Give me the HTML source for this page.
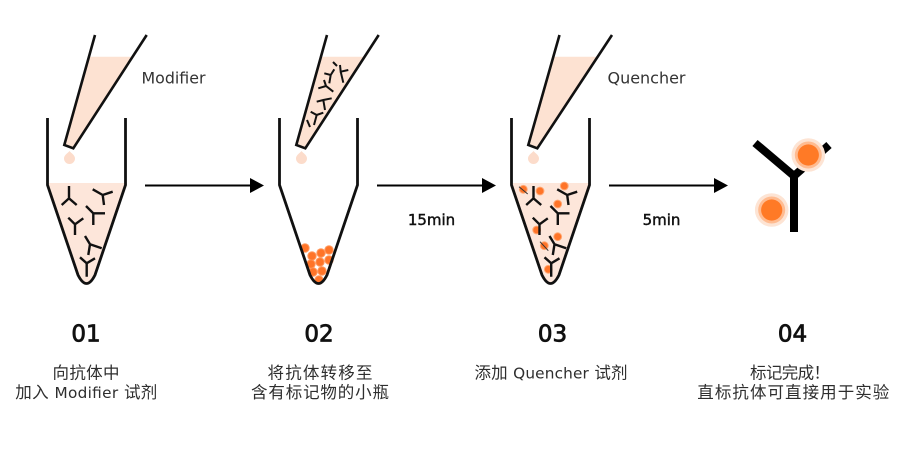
<!DOCTYPE html>
<html>
<head>
<meta charset="utf-8">
<style>
  html,body{margin:0;padding:0;background:#fff;}
  body{width:902px;height:454px;overflow:hidden;}
  svg{display:block;}
  .t{font-family:"DejaVu Sans","Noto Sans CJK SC",sans-serif;}
</style>
</head>
<body>
<svg width="902" height="454" viewBox="0 0 902 454" xmlns="http://www.w3.org/2000/svg">
  <rect x="0" y="0" width="902" height="454" fill="#fff"/>

  <!-- ========== STEP 1 ========== -->
  <g>
    <polygon points="88.9,56.7 132.6,56.7 73.3,148.3 64.3,145" fill="#fde2d2"/>
    <path d="M95,35 L64.3,145 L73.3,148.3 L146.7,35" fill="none" stroke="#111" stroke-width="2.6" stroke-linejoin="miter"/>
    <path d="M69.5,151 C71.5,153.5 75,155 75,158.5 A5.5,5.5 0 1 1 64,158.5 C64,155 67.5,153.5 69.5,151 Z" fill="#fcdccb"/>
    <path d="M47.5,183 H125.5 V185 L95,275 Q86.5,292 78,275 L47.5,185 Z" fill="#fde6da"/>
    <g fill="none" stroke="#111" stroke-width="2.4">
      <path d="M69,186 V198.3 M61.7,205 L69,198.3 L76.7,205"/>
      <path d="M92.7,189.3 L102.7,195 L112.7,191.7 M102.7,195 L104,205"/>
      <path d="M86,206 L93.3,213.3 L105,213.3 M93.3,213.3 V225"/>
      <path d="M68.3,217.7 L75,224.3 L83.3,218.3 M75,224.3 V235"/>
      <path d="M85,236 L90,244.3 L101.7,248.3 M90,244.3 L88.3,255"/>
      <path d="M80,257.3 L86.7,263.3 L95,258.3 M86.7,263.3 V276.7"/>
    </g>
    <path d="M47.5,118 V185 L78,275 Q86.5,292 95,275 L125.5,185 V118" fill="none" stroke="#111" stroke-width="2.8" stroke-linejoin="round"/>
  </g>

  <!-- ========== STEP 2 ========== -->
  <g transform="translate(232,0)">
    <polygon points="88.9,56.7 132.6,56.7 73.3,148.3 64.3,145" fill="#fde2d2"/>
    <path d="M69.5,151 C71.5,153.5 75,155 75,158.5 A5.5,5.5 0 1 1 64,158.5 C64,155 67.5,153.5 69.5,151 Z" fill="#fcdccb"/>
  </g>
  <g fill="none" stroke="#111" stroke-width="2">
    <path d="M324.3,73.3 L330.7,75 L334.3,69.3 M330.7,75 L329.3,83.3"/>
    <path d="M340,65 L340.7,71.7 L348.3,70 M340.7,71.7 L343.3,82.7"/>
    <path d="M318.3,88.3 L326,86 L333.3,91.7 M326,86 L324,80"/>
    <path d="M316.7,101.7 L323.3,100 L331.7,98.3 M323.3,100 L325,110"/>
    <path d="M310.7,111.7 L316.7,115 L323.3,112.7 M316.7,115 L314,125"/>
    <path d="M333,62 L337,66"/>
    <path d="M307,120 L310,127"/>
  </g>
  <g transform="translate(232,0)">
    <path d="M95,35 L64.3,145 L73.3,148.3 L146.7,35" fill="none" stroke="#111" stroke-width="2.6" stroke-linejoin="miter"/>
  </g>
  <g>
    <g fill="#ff9a60">
      <circle cx="305" cy="248" r="4.7"/>
      <circle cx="312" cy="256" r="4.7"/>
      <circle cx="321" cy="253" r="4.7"/>
      <circle cx="329" cy="250" r="4.7"/>
      <circle cx="311" cy="264" r="4.7"/>
      <circle cx="320" cy="262" r="4.7"/>
      <circle cx="329" cy="260" r="4.7"/>
      <circle cx="313" cy="272" r="4.7"/>
      <circle cx="322" cy="271" r="4.7"/>
      <circle cx="319" cy="280" r="4.7"/>
    </g>
    <g fill="#ff7428">
      <circle cx="305" cy="248" r="3.7"/>
      <circle cx="312" cy="256" r="3.7"/>
      <circle cx="321" cy="253" r="3.7"/>
      <circle cx="329" cy="250" r="3.7"/>
      <circle cx="311" cy="264" r="3.7"/>
      <circle cx="320" cy="262" r="3.7"/>
      <circle cx="329" cy="260" r="3.7"/>
      <circle cx="313" cy="272" r="3.7"/>
      <circle cx="322" cy="271" r="3.7"/>
      <circle cx="319" cy="280" r="3.7"/>
    </g>
  </g>
  <g transform="translate(232,0)">
    <path d="M47.5,118 V185 L78,275 Q86.5,292 95,275 L125.5,185 V118" fill="none" stroke="#111" stroke-width="2.8" stroke-linejoin="round"/>
  </g>

  <!-- ========== STEP 3 ========== -->
  <g transform="translate(464,0)">
    <polygon points="88.9,56.7 133.6,56.7 73.3,148.3 64.3,145" fill="#fde2d2"/>
    <path d="M95.5,35 L64.3,145 L73.3,148.3 L148,35" fill="none" stroke="#111" stroke-width="2.6" stroke-linejoin="miter"/>
    <path d="M69.5,151 C71.5,153.5 75,155 75,158.5 A5.5,5.5 0 1 1 64,158.5 C64,155 67.5,153.5 69.5,151 Z" fill="#fcdccb"/>
    <path d="M47.5,183 H125.5 V185 L95,275 Q86.5,292 78,275 L47.5,185 Z" fill="#fde6da"/>
  </g>
  <g fill="#ffa772">
    <circle cx="523.3" cy="189.3" r="4.4"/>
    <circle cx="540" cy="191" r="4.4"/>
    <circle cx="564.3" cy="186" r="4.4"/>
    <circle cx="557.7" cy="204" r="4.4"/>
    <circle cx="536.7" cy="230" r="4.4"/>
    <circle cx="557.7" cy="236.7" r="4.4"/>
    <circle cx="544.3" cy="245.7" r="4.4"/>
    <circle cx="548.3" cy="269.3" r="4.4"/>
  </g>
  <g fill="#ff7428">
    <circle cx="523.3" cy="189.3" r="3.4"/>
    <circle cx="540" cy="191" r="3.4"/>
    <circle cx="564.3" cy="186" r="3.4"/>
    <circle cx="557.7" cy="204" r="3.4"/>
    <circle cx="536.7" cy="230" r="3.4"/>
    <circle cx="557.7" cy="236.7" r="3.4"/>
    <circle cx="544.3" cy="245.7" r="3.4"/>
    <circle cx="548.3" cy="269.3" r="3.4"/>
  </g>
  <g transform="translate(464.5,0)" fill="none" stroke="#111" stroke-width="2.4">
    <path d="M69,186 V198.3 M61.7,205 L69,198.3 L76.7,205"/>
    <path d="M92.7,189.3 L102.7,195 L112.7,191.7 M102.7,195 L104,205"/>
    <path d="M86,206 L93.3,213.3 L105,213.3 M93.3,213.3 V225"/>
    <path d="M68.3,217.7 L75,224.3 L83.3,218.3 M75,224.3 V235"/>
    <path d="M85,236 L90,244.3 L101.7,248.3 M90,244.3 L88.3,255"/>
    <path d="M80,257.3 L86.7,263.3 L95,258.3 M86.7,263.3 V276.7"/>
  </g>
  <g stroke="#333" stroke-width="1" fill="none">
    <path d="M519,186.7 L527.7,194"/>
    <path d="M540,241.7 L548.3,250.7"/>
  </g>
  <g transform="translate(464,0)">
    <path d="M47.5,118 V185 L78,275 Q86.5,292 95,275 L125.5,185 V118" fill="none" stroke="#111" stroke-width="2.8" stroke-linejoin="round"/>
  </g>

  <!-- ========== STEP 4 ========== -->
  <g fill="none" stroke="#000" stroke-width="8" stroke-linejoin="miter">
    <path d="M755,143 L794,176 L794,232"/>
    <path d="M794,176 L829,145"/>
  </g>
  <g>
    <circle cx="808.3" cy="155" r="16.8" fill="#fde4d4"/>
    <circle cx="808.3" cy="155" r="13.5" fill="#ffbb90"/>
    <circle cx="808.3" cy="155" r="10.6" fill="#ff7a26"/>
    <circle cx="771.7" cy="210" r="16.8" fill="#fde4d4"/>
    <circle cx="771.7" cy="210" r="13.5" fill="#ffbb90"/>
    <circle cx="771.7" cy="210" r="10.6" fill="#ff7a26"/>
  </g>

  <!-- ========== ARROWS ========== -->
  <g stroke="#000" stroke-width="2" fill="none">
    <line x1="145" y1="185.5" x2="251" y2="185.5"/>
    <line x1="377" y1="185.5" x2="483" y2="185.5"/>
    <line x1="609" y1="185.5" x2="715" y2="185.5"/>
  </g>
  <g fill="#000">
    <polygon points="250,178 264,185.5 250,193"/>
    <polygon points="482,178 496,185.5 482,193"/>
    <polygon points="714,178 728,185.5 714,193"/>
  </g>

  <!-- ========== TEXT ========== -->
  <g class="t">
    <text x="141.5" y="83.5" font-size="16" fill="#333" textLength="64" lengthAdjust="spacingAndGlyphs">Modifier</text>
    <text x="607.5" y="83.5" font-size="16" fill="#333" textLength="78" lengthAdjust="spacingAndGlyphs">Quencher</text>

    <text x="431.5" y="225" font-size="15" fill="#111" text-anchor="middle" stroke="#111" stroke-width="0.45">15min</text>
    <text x="661.5" y="225" font-size="15" fill="#111" text-anchor="middle" stroke="#111" stroke-width="0.45">5min</text>

    <g font-size="23" fill="#111" text-anchor="middle" stroke="#111" stroke-width="0.8">
      <text x="86" y="341.5">01</text>
      <text x="319" y="341.5">02</text>
      <text x="552.5" y="341.5">03</text>
      <text x="792.5" y="341.5">04</text>
    </g>

    <g font-size="16.5" fill="#2e2e2e" text-anchor="middle">
      <text x="86" y="378.5" textLength="67" lengthAdjust="spacing">向抗体中</text>
      <text x="86.3" y="398" textLength="142" lengthAdjust="spacing">加入 <tspan font-size="15.3">Modifier</tspan> 试剂</text>

      <text x="320" y="378.5" textLength="105" lengthAdjust="spacing">将抗体转移至</text>
      <text x="320" y="398" textLength="138" lengthAdjust="spacing">含有标记物的小瓶</text>

      <text x="551" y="378.5" textLength="153" lengthAdjust="spacing">添加 <tspan font-size="15.3">Quencher</tspan> 试剂</text>

      <text x="790" y="378.5" textLength="80" lengthAdjust="spacing">标记完成！</text>
      <text x="793.3" y="398" textLength="192" lengthAdjust="spacing">直标抗体可直接用于实验</text>
    </g>
  </g>
</svg>
</body>
</html>
